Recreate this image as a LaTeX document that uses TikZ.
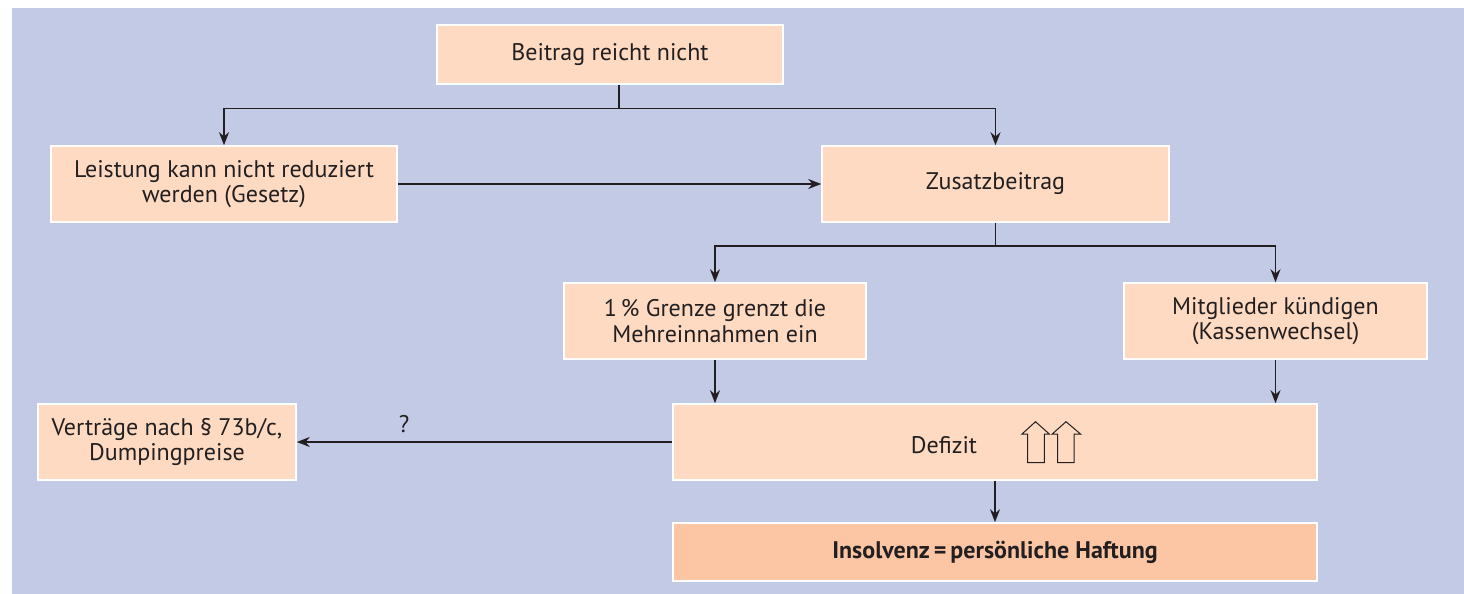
\documentclass[tikz,border=0pt]{standalone}
\usepackage{fontspec}
\setmainfont{PT Sans}
\usetikzlibrary{arrows.meta}
\definecolor{bgblue}{RGB}{195,202,230}
\definecolor{peach}{RGB}{254,218,195}
\definecolor{peachdark}{RGB}{252,198,164}
\definecolor{ink}{RGB}{35,31,32}
\begin{document}
\begin{tikzpicture}[x=0.5pt,y=-0.5pt,
  txt/.style={text=ink, font=\fontsize{12}{12.8}\selectfont},
  box/.style={txt, draw=white, line width=0.8pt, fill=peach, align=center, inner sep=0pt},
  conn/.style={draw=ink, line width=0.8pt},
  arr/.style={conn, -{Stealth[length=6.5pt,width=5pt]}},
  uparrow/.style={draw=ink, line width=0.5pt, fill=peach, line join=miter},
]
\useasboundingbox (0,0) rectangle (1464,594);
\fill[white] (0,0) rectangle (1464,594);
\fill[bgblue] (12,8) rectangle (1464,594);

\node[box, minimum width=173pt, minimum height=29.5pt] (beitrag) at (610,54.5) {Beitrag reicht nicht};
\node[box, minimum width=173pt, minimum height=38pt] (leistung) at (224,184) {Leistung kann nicht reduziert\\werden (Gesetz)};
\node[box, minimum width=173.5pt, minimum height=38pt] (zusatz) at (995.5,184) {Zusatzbeitrag};
\node[box, minimum width=151pt, minimum height=38pt] (grenze) at (715,321) {1\,\% Grenze grenzt die\\Mehreinnahmen ein};
\node[box, minimum width=151.5pt, minimum height=38pt] (mitglieder) at (1275.5,321) {Mitglieder kündigen\\(Kassenwechsel)};
\node[box, minimum width=129pt, minimum height=38pt] (vertraege) at (167,442) {Verträge nach § 73b/c,\\Dumpingpreise};
\node[box, minimum width=322pt, minimum height=38pt] (defizit) at (995,442) {};
\node[txt, inner sep=0pt] (deftext) at (944,445) {Defizit};
\node[box, fill=peachdark, minimum width=322pt, minimum height=29pt, font=\fontsize{12}{12.8}\bfseries\selectfont] (insolvenz) at (995,552) {Insolvenz\,=\,persönliche Haftung};

% hollow up arrows
\draw[uparrow] (1022,434) -- (1035.5,421.7) -- (1049.3,434) -- (1044.3,434) -- (1044.3,462.7) -- (1027.7,462.7) -- (1027.7,434) -- cycle;
\draw[uparrow] (1052.2,434) -- (1066,421.7) -- (1080.5,434) -- (1074,434) -- (1074,462.7) -- (1057.7,462.7) -- (1057.7,434) -- cycle;

% connectors
\coordinate (bsplit) at (619,108.5);
\draw[conn] ([xshift=4.5pt]beitrag.south) -- (bsplit);
\draw[arr] (bsplit) -| (leistung.north);
\draw[arr] (bsplit) -| (zusatz.north);
\draw[arr] (leistung.east) -- (zusatz.west);

\coordinate (zsplit) at (995.5,246);
\draw[conn] (zusatz.south) -- (zsplit);
\draw[arr] (zsplit) -| (grenze.north);
\draw[arr] (zsplit) -| (mitglieder.north);

\draw[arr] (grenze.south) -- (grenze.south |- defizit.north);
\draw[arr] (mitglieder.south) -- (mitglieder.south |- defizit.north);
\draw[arr] (defizit.west) -- node[txt, pos=0.714, above=4pt, inner sep=0pt] (q) {?} (vertraege.east);
\draw[arr] (defizit.south) -- (insolvenz.north);
\end{tikzpicture}
\end{document}
